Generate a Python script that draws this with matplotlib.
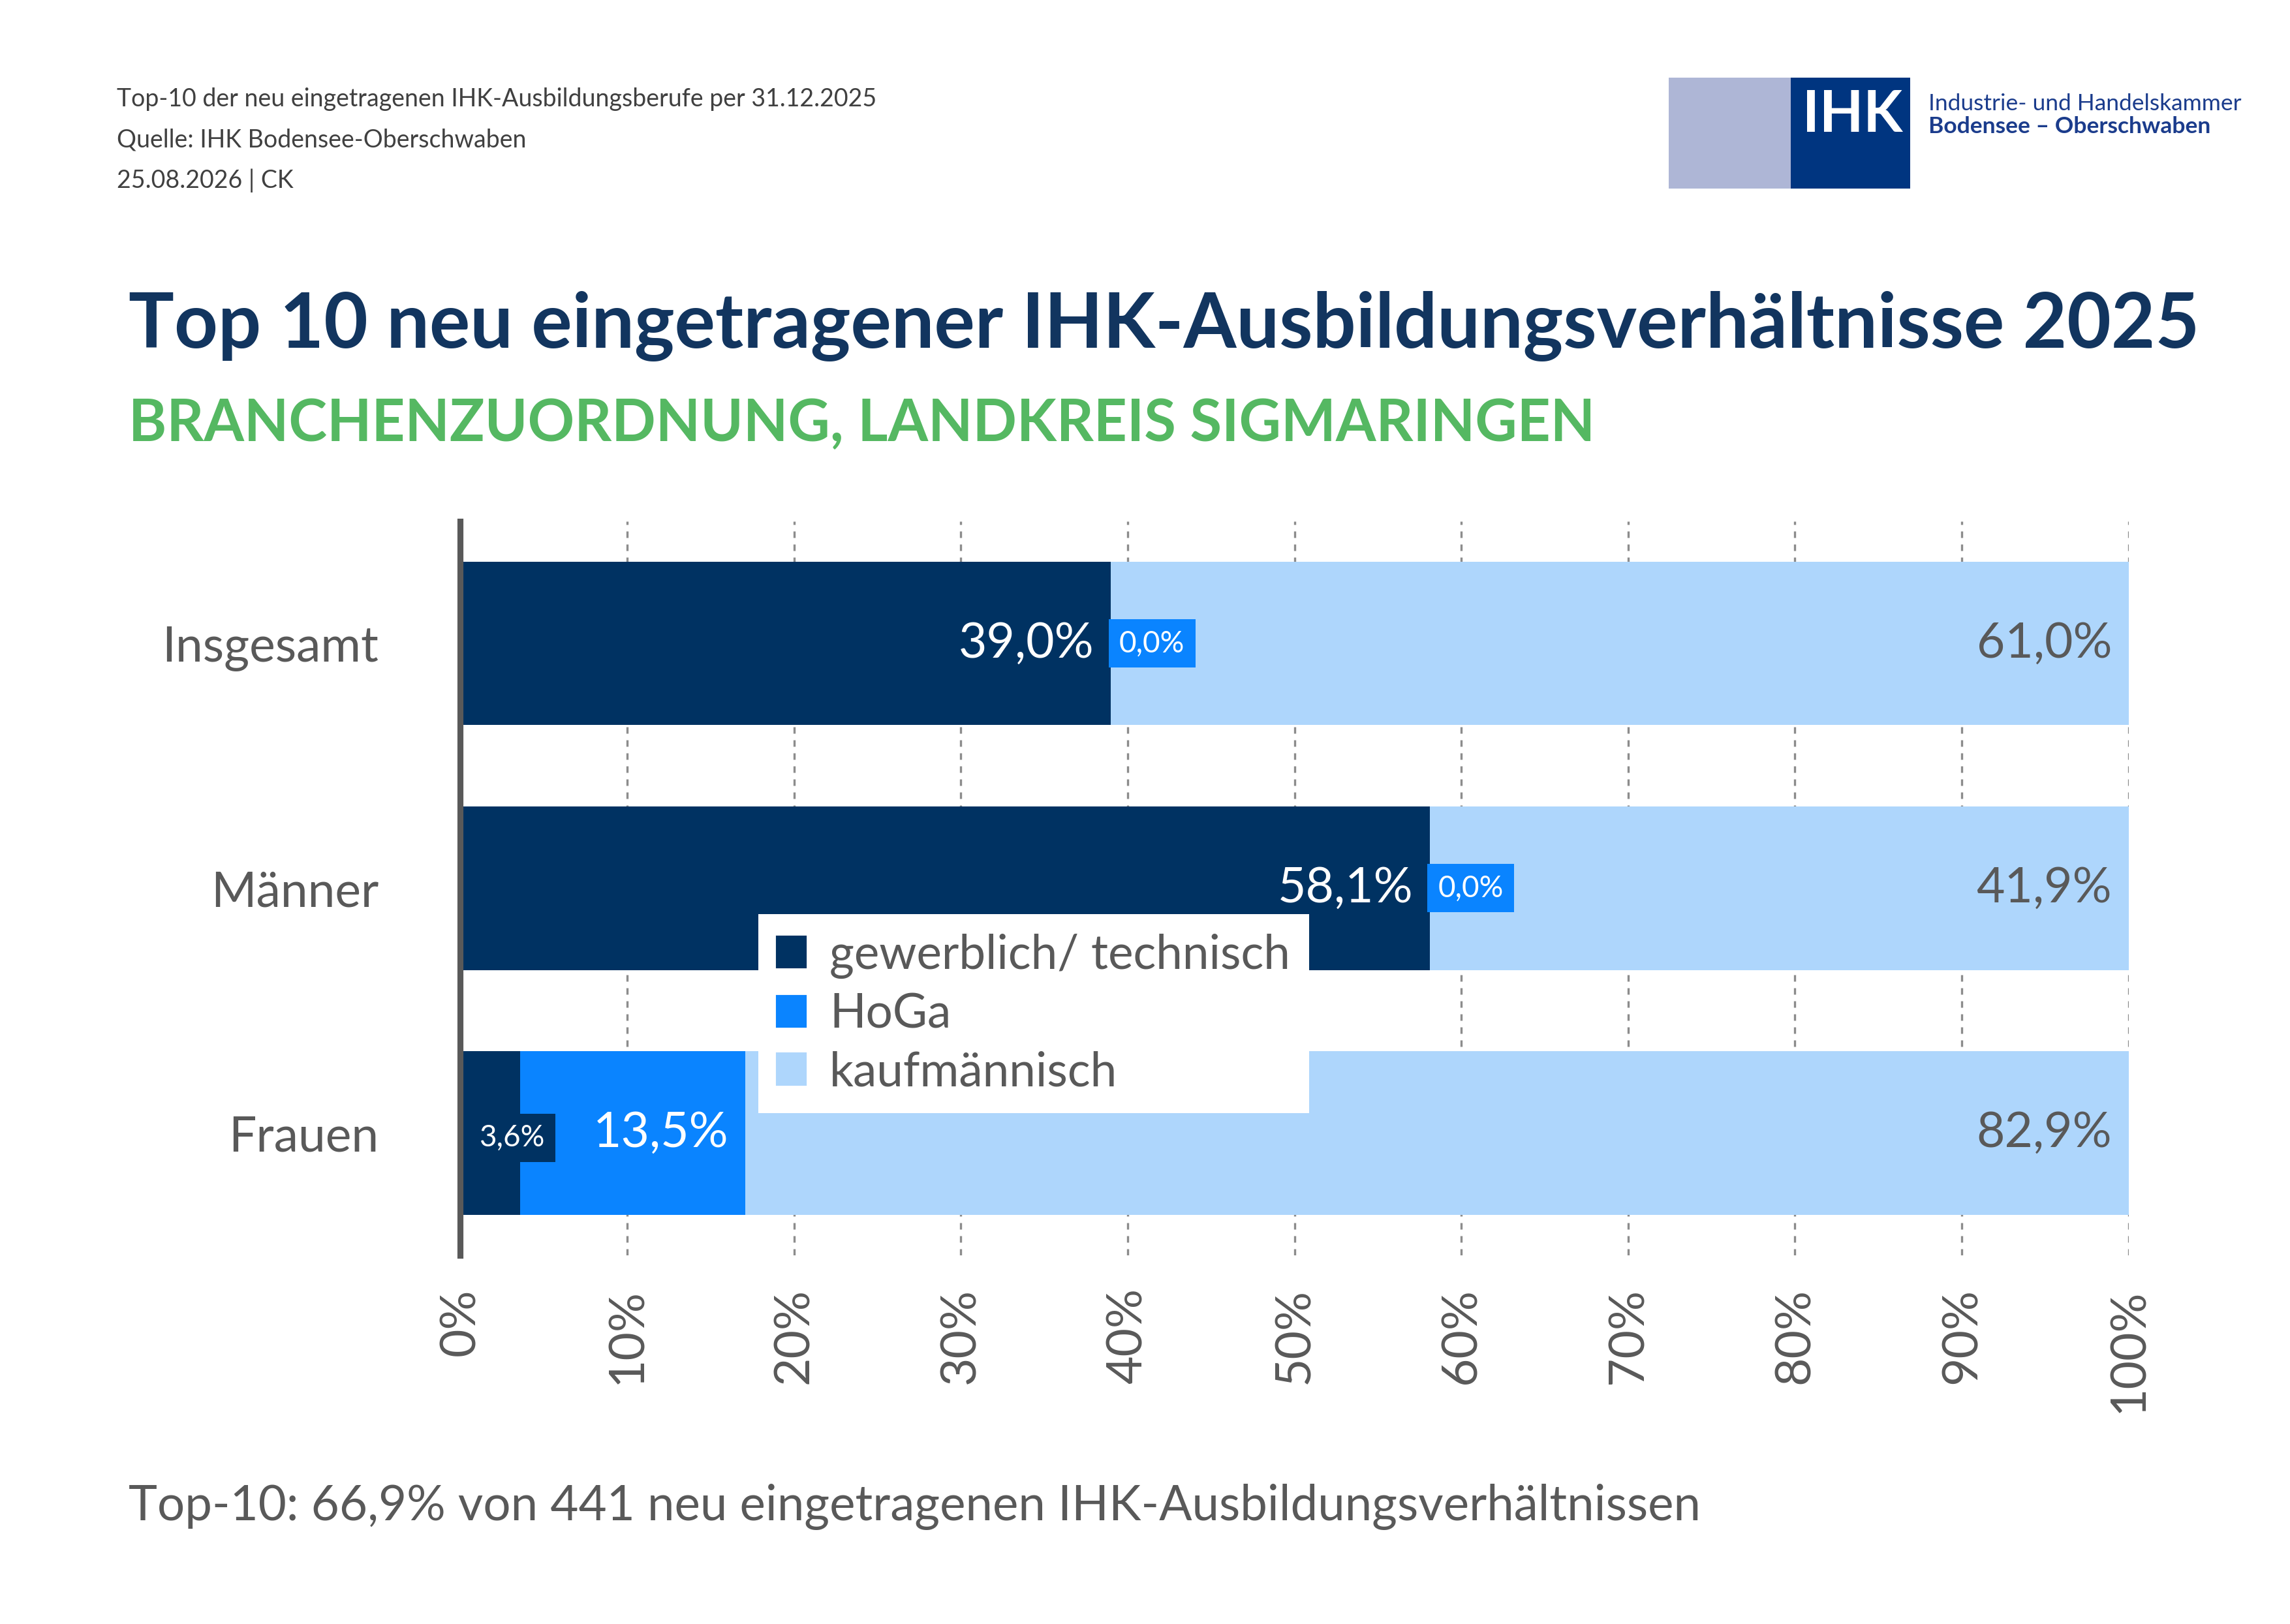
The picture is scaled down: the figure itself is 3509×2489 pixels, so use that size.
import matplotlib
matplotlib.use("Agg")
from matplotlib import pyplot as plt
from matplotlib.patches import Rectangle, Patch

plt.rcParams['font.family'] = ['Lato', 'DejaVu Sans']

categories = ["Insgesamt", "Männer", "Frauen"]
series = ["gewerblich/ technisch", "HoGa", "kaufmännisch"]
gewerblich = [39.0, 58.1, 3.6]
hoga = [0.0, 0.0, 13.5]
kaufm = [61.0, 41.9, 82.9]
ticks = list(range(0, 101, 10))

c_dark = "#003262"
c_hoga = "#0A84FF"
c_light = "#AED6FC"
gray = "#595959"

fig = plt.figure(figsize=(11.697, 8.297), dpi=300)
ax = fig.add_axes([0.201, 0.227, 0.7285, 0.452])

y = list(range(len(categories)))
h = 0.667
ax.barh(y, gewerblich, height=h, color=c_dark, zorder=2)
ax.barh(y, hoga, left=gewerblich, height=h, color=c_hoga, zorder=2)
left3 = [a + b for a, b in zip(gewerblich, hoga)]
ax.barh(y, kaufm, left=left3, height=h, color=c_light, zorder=2)

fmt = lambda v: f"{v:.1f}%".replace(".", ",")
for i in y:
    g, ho, k = gewerblich[i], hoga[i], kaufm[i]
    if g >= 10:
        ax.text(g - 1, i, fmt(g), ha="right", va="center", color="white", fontsize=18, zorder=4)
    else:
        ax.text(3.1, i + 0.02, fmt(g), ha="center", va="center", color="white", fontsize=11, zorder=4,
                bbox=dict(boxstyle="square,pad=0.35", fc=c_dark, ec="none"))
    if ho >= 10:
        ax.text(g + ho - 1, i, fmt(ho), ha="right", va="center", color="white", fontsize=18, zorder=4)
    else:
        ax.text(g + 0.5, i, fmt(ho), ha="left", va="center", color="white", fontsize=11, zorder=4,
                bbox=dict(boxstyle="square,pad=0.35", fc=c_hoga, ec="none"))
    ax.text(99, i, fmt(k), ha="right", va="center", color=gray, fontsize=18, zorder=4)

ax.set_xlim(0, 100)
ax.set_ylim(2.5, -0.5)
ax.set_xticks(ticks)
ax.set_xticklabels([f"{t}%" for t in ticks], rotation=90, fontsize=18, color=gray)
ax.set_yticks(y)
ax.set_yticklabels(categories, fontsize=18, color=gray)
ax.tick_params(axis="both", length=0, pad=12)
ax.tick_params(axis="y", pad=30)
ax.grid(axis="x", linestyle=(0, (3, 3)), color="#8c8c8c", linewidth=0.8, zorder=1)
for s in ["top", "right", "bottom"]:
    ax.spines[s].set_visible(False)
ax.spines["left"].set_color("#595959")
ax.spines["left"].set_linewidth(2.2)
ax.spines["left"].set_zorder(5)

handles = [Patch(color=c) for c in (c_dark, c_hoga, c_light)]
leg = fig.legend(handles, series, loc="upper left", bbox_to_anchor=(0.331, 0.437), fontsize=17.5,
                 frameon=True, fancybox=False, framealpha=1, edgecolor="white", labelcolor=gray,
                 borderaxespad=0, handlelength=0.6, handleheight=0.6, handletextpad=0.5,
                 borderpad=0.4, labelspacing=0.3)
leg.get_frame().set_linewidth(0)
leg.set_zorder(10)

# header
for k, t in enumerate(["Top-10 der neu eingetragenen IHK-Ausbildungsberufe per 31.12.2025",
                       "Quelle: IHK Bodensee-Oberschwaben", "25.08.2026 | CK"]):
    fig.text(0.051, 0.939 - k * 0.025, t, fontsize=9, color="#404040", va="center")
fig.text(0.056, 0.799, "Top 10 neu eingetragener IHK-Ausbildungsverhältnisse 2025", fontsize=28,
         fontweight="bold", color="#12355f", va="center")
fig.text(0.056, 0.739, "BRANCHENZUORDNUNG, LANDKREIS SIGMARINGEN", fontsize=21.3,
         fontweight="bold", color="#55b862", va="center")
fig.text(0.056, 0.072, "Top-10: 66,9% von 441 neu eingetragenen IHK-Ausbildungsverhältnissen",
         fontsize=17.9, color=gray, va="center")

# logo
fig.patches.append(Rectangle((0.7287, 0.884), 0.0545, 0.068, transform=fig.transFigure, fc="#aeb6d6", ec="none"))
fig.patches.append(Rectangle((0.782, 0.884), 0.052, 0.068, transform=fig.transFigure, fc="#003580", ec="none"))
fig.text(0.809, 0.929, "IHK", fontsize=21, fontweight="bold", color="white", ha="center", va="center")
fig.text(0.842, 0.936, "Industrie- und Handelskammer", fontsize=8.5, color="#1b3c8c", va="center")
fig.text(0.842, 0.922, "Bodensee – Oberschwaben", fontsize=8.5, fontweight="bold", color="#1b3c8c", va="center")

fig.savefig("out.png", dpi=300, facecolor="white")
